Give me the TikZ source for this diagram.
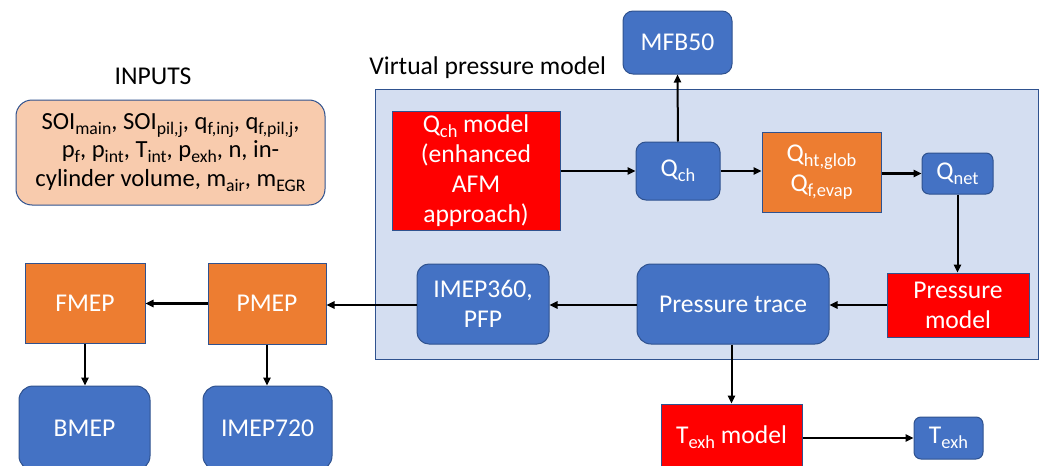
\documentclass[tikz,border=0pt]{standalone}
\usepackage{fontspec}
\setmainfont{Carlito}
\usetikzlibrary{arrows.meta}
\definecolor{bblue}{HTML}{4472C4}
\definecolor{bborder}{HTML}{2F528F}
\definecolor{borange}{HTML}{ED7D31}
\definecolor{bred}{HTML}{FF0000}
\definecolor{bpeach}{HTML}{F8CBAD}
\definecolor{blight}{HTML}{D4DEF1}
\makeatletter
\newcommand\sbs[1]{\raisebox{-0.42ex}{\fontsize{\dimexpr0.72\dimexpr\f@size pt\relax}{1pt}\selectfont #1}}
\makeatother
\tikzset{
  box/.style={draw=bborder, line width=0.5pt, inner sep=0pt, align=center, text=white,
    font=\fontsize{12.8}{15}\selectfont},
  bluebox/.style={box, fill=bblue, rounded corners=6pt},
  orangebox/.style={box, fill=borange},
  redbox/.style={box, fill=bred},
  conn/.style={line width=1pt, -{Triangle[length=4pt,width=3.6pt]}},
  thickconn/.style={line width=1.3pt, -{Triangle[length=4pt,width=3.6pt]}},
}
\begin{document}
\begin{tikzpicture}[x=0.5pt,y=-0.5pt]
\useasboundingbox (0,0) rectangle (1040,466);
% virtual pressure model frame
\node[draw=bborder, line width=0.5pt, fill=blight, minimum width=331.5pt, minimum height=135pt, inner sep=0pt] (vpm) at (706.5,224) {};
\node[anchor=west, font=\fontsize{12.8}{15}\selectfont, inner sep=0pt] (vpmlabel) at (369,68) {Virtual pressure model};
% inputs
\node[font=\fontsize{12.8}{15}\selectfont, inner sep=0pt] (inlabel) at (153,76) {INPUTS};
\node[draw=bborder, line width=0.5pt, fill=bpeach, rounded corners=8pt, minimum width=154.5pt, minimum height=52.5pt, inner sep=0pt, align=center, font=\fontsize{12.3}{14.2}\selectfont] (inputs) at (170.5,152.5)
  {SOI\sbs{main}, SOI\sbs{pil,j}, q\sbs{f,inj}, q\sbs{f,pil,j},\\
   p\sbs{f}, p\sbs{int}, T\sbs{int}, p\sbs{exh}, n, in-\\
   cylinder volume, m\sbs{air}, m\sbs{EGR}};
% top chain
\node[bluebox, rounded corners=5pt, minimum width=54.5pt, minimum height=31.5pt] (mfb) at (677.5,42.5) {MFB50};
\node[redbox, minimum width=84pt, minimum height=59.5pt] (qchmodel) at (476,170.5) {Q\sbs{ch} model\\(enhanced\\AFM\\approach)};
\node[bluebox, rounded corners=5pt, minimum width=42pt, minimum height=29pt] (qch) at (678,171) {Q\sbs{ch}};
\node[orangebox, minimum width=59.5pt, minimum height=40pt] (qht) at (821.5,172) {Q\sbs{ht,glob}\\Q\sbs{f,evap}};
\node[bluebox, rounded corners=3.5pt, minimum width=35.5pt, minimum height=20.5pt] (qnet) at (957.5,173.5) {Q\sbs{net}};
% middle row
\node[redbox, minimum width=71pt, minimum height=32pt] (pmodel) at (958,305) {Pressure\\model};
\node[bluebox, rounded corners=7pt, minimum width=96pt, minimum height=40pt] (ptrace) at (733,304) {Pressure trace};
\node[bluebox, minimum width=66pt, minimum height=40pt] (imep360) at (483,304) {IMEP360,\\PFP};
\node[orangebox, minimum width=59pt, minimum height=40.5pt] (pmep) at (267,303.5) {PMEP};
\node[orangebox, minimum width=60pt, minimum height=40pt] (fmep) at (85,303) {FMEP};
% bottom row
\node[bluebox, rounded corners=7pt, minimum width=65.5pt, minimum height=42pt] (bmep) at (84.5,428) {BMEP};
\node[bluebox, rounded corners=7pt, minimum width=64.5pt, minimum height=42pt] (imep720) at (267.5,428) {IMEP720};
\node[redbox, minimum width=70.5pt, minimum height=33pt] (texhmodel) at (731.5,437) {T\sbs{exh} model};
\node[bluebox, rounded corners=3.5pt, minimum width=34.5pt, minimum height=21pt] (texh) at (948.5,438) {T\sbs{exh}};
% connectors
\draw[thickconn] (qchmodel.east |- qch.west) -- (qch.west);
\draw[thickconn] (qch.east) -- (qht.west |- qch.east);
\draw[thickconn] (qht.east |- qnet.west) -- (qnet.west);
\draw[conn] (qch.north) -- (mfb.south);
\draw[conn] (qnet.south) -- (qnet.south |- pmodel.north);
\draw[thickconn] (pmodel.west) -- (ptrace.east |- pmodel.west);
\draw[thickconn] (ptrace.west |- pmodel.west) -- (imep360.east |- pmodel.west);
\draw[thickconn] (imep360.west |- pmodel.west) -- (pmep.east |- pmodel.west);
\draw[thickconn] (pmep.west) -- (fmep.east |- pmep.west);
\draw[conn] (fmep.south) -- (fmep.south |- bmep.north);
\draw[conn] (pmep.south) -- (pmep.south |- imep720.north);
\draw[conn] (ptrace.south -| texhmodel.north) -- (texhmodel.north);
\draw[thickconn] (texhmodel.east |- texh.west) -- (texh.west);
\end{tikzpicture}
\end{document}
